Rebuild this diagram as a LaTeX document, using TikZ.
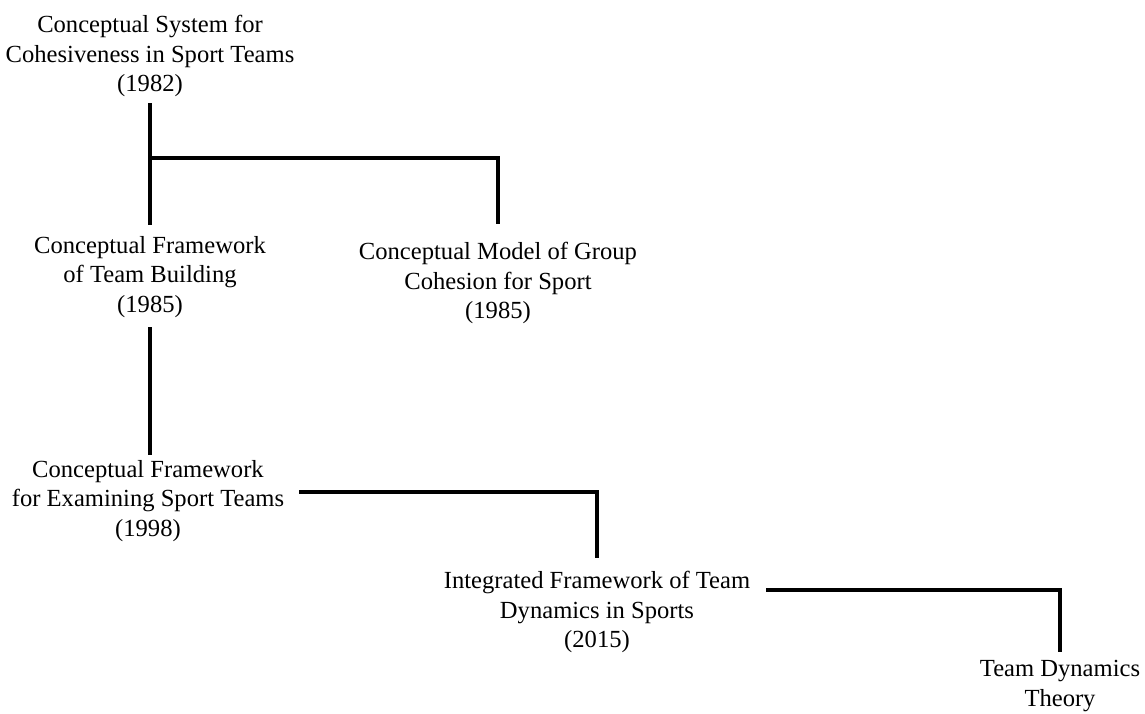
\documentclass[tikz,border=0pt]{standalone}
\usepackage{fontspec}
\setmainfont{Liberation Serif}
\usepackage{tikz}

\begin{document}
\begin{tikzpicture}
  [x=0.02cm, y=-0.02cm,
   every node/.style={font=\fontsize{14}{16.9}\selectfont},
   model/.style={align=center, inner sep=0pt},
   link/.style={line width=2pt, line cap=rect}]

   \useasboundingbox (0,0) rectangle (1145,713);

   %Draw the models
   \node[model] (sys82)   at (150,56)   {Conceptual System for\\Cohesiveness in Sport Teams\\(1982)};
   \node[model] (build85) at (150,277)  {Conceptual Framework\\of Team Building\\(1985)};
   \node[model] (group85) at (498,283)  {Conceptual Model of Group\\Cohesion for Sport\\(1985)};
   \node[model] (exam98)  at (148,501)  {Conceptual Framework\\for Examining Sport Teams\\(1998)};
   \node[model] (integ15) at (597,612)  {Integrated Framework of Team\\Dynamics in Sports\\(2015)};
   \node[model] (theory)  at (1060,686) {Team Dynamics\\Theory};

   %Draw the links
   \coordinate (split) at (150,158);
   \draw[link, shorten <=4pt, shorten >=7pt] (sys82.south) -- (sys82.south |- build85.north);
   \draw[link, shorten >=11pt] (split) -| (group85.north);
   \draw[link, shorten <=6pt, shorten >=4pt] (build85.south) -- (build85.south |- exam98.north);
   \draw[link, shorten >=8.5pt] ([xshift=9pt,yshift=5pt]exam98.east) -| (integ15.north);
   \draw[link, shorten >=5.5pt] ([xshift=10pt,yshift=12.5pt]integ15.east) -| (theory.north);
\end{tikzpicture}
\end{document}
